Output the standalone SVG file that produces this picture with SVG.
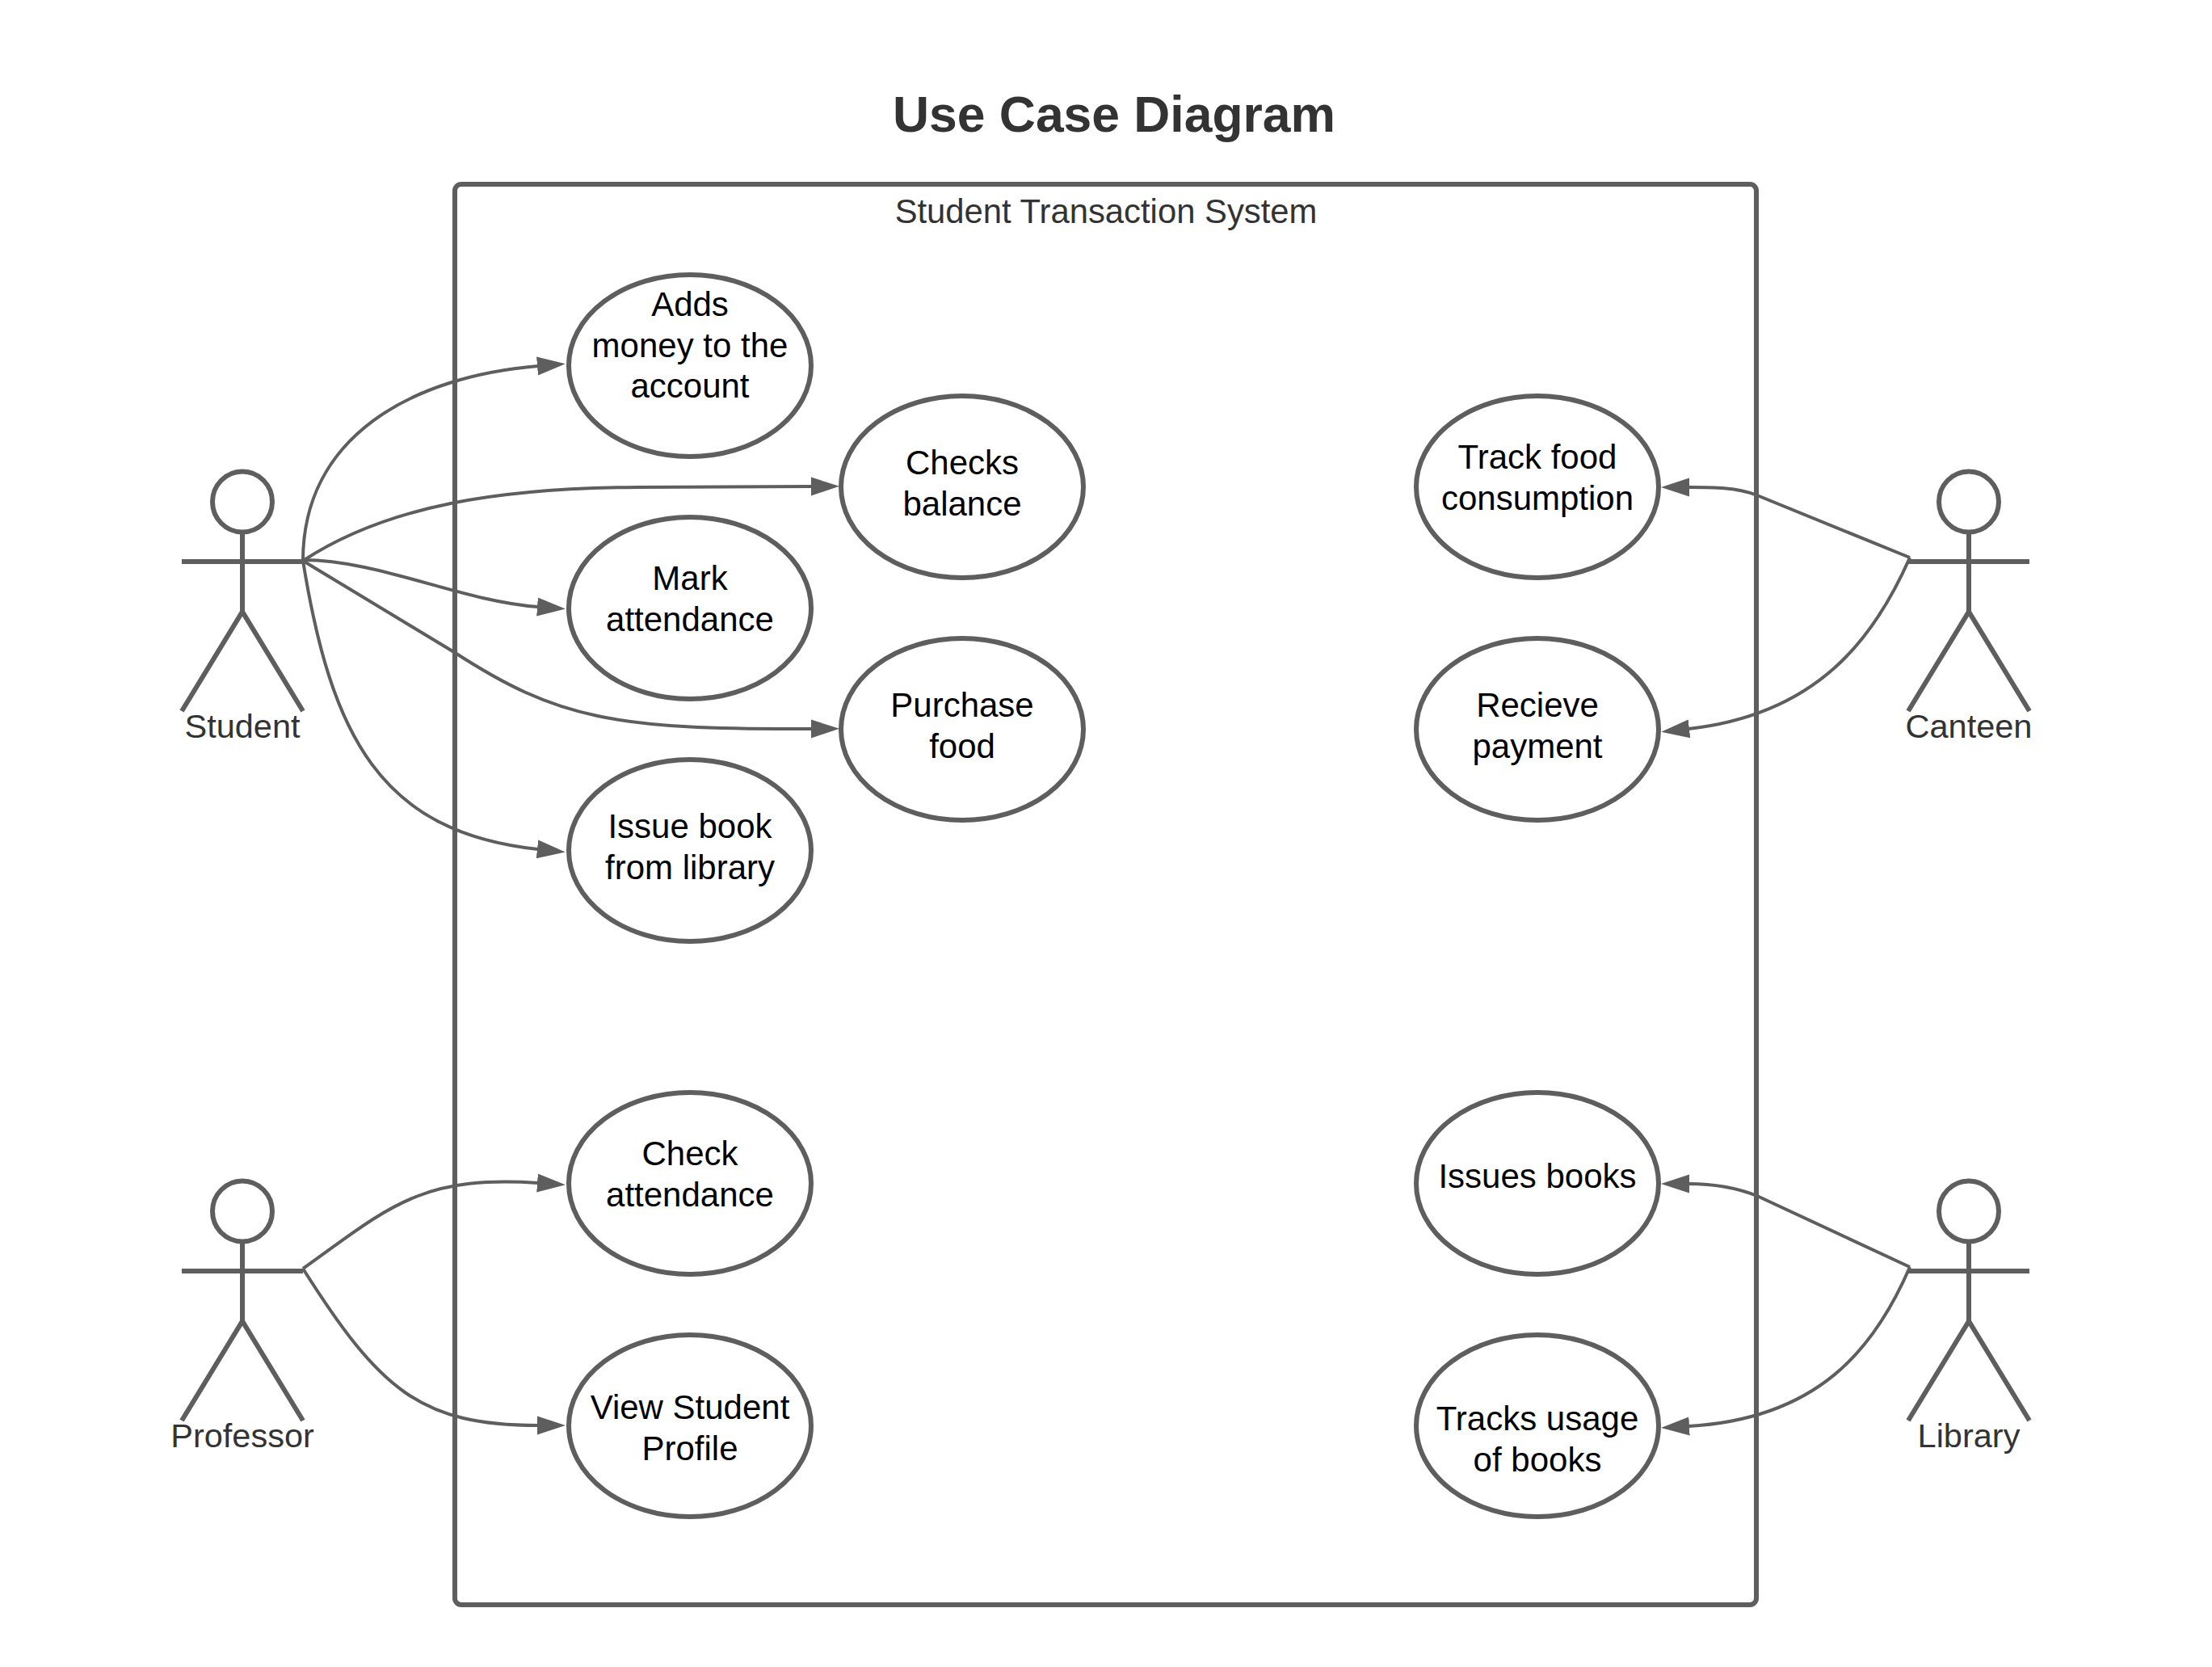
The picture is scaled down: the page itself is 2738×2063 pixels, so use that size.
<svg xmlns="http://www.w3.org/2000/svg" width="2738" height="2063" viewBox="0 0 2738 2063">
<style>
text{font-family:"Liberation Sans",Arial,sans-serif;font-size:42px;text-anchor:middle}
.uc text{fill:#000}
.lbl{fill:#333;font-size:41.800px}
.title{fill:#333;font-size:62.4px;font-weight:bold}
.uc ellipse{fill:#fff;stroke:#5e5e5e;stroke-width:6}
.actor *{fill:none;stroke:#5e5e5e;stroke-width:6}
.actor text{fill:#333;stroke:none;font-size:41.500px}
.c{fill:none;stroke:#5e5e5e;stroke-width:4}
</style>
<defs>
<marker id="a" markerUnits="userSpaceOnUse" markerWidth="36" markerHeight="26" viewBox="0 0 36 26" refX="1" refY="13" orient="auto"><path d="M0 1.500L35 13L0 24.500Z" fill="#5e5e5e"/></marker>
<g id="stick"><ellipse cx="0" cy="-74" rx="37" ry="37.500"/><path d="M0 -37V62M-75 0H75M-75 185L0 62L75 185"/></g>
</defs>
<rect width="2738" height="2063" fill="#fff"/>
<text class="title" x="1379" y="163">Use Case Diagram</text>
<g id="system"><rect x="563" y="228" width="1611" height="1758" rx="8" fill="#fff" stroke="#5e5e5e" stroke-width="6"/>
<text class="lbl" x="1369" y="276">Student Transaction System</text></g>
<g id="connectors">
<path class="c" marker-end="url(#a)" d="M375 694C375 540 510 466 666 453"/>
<path class="c" marker-end="url(#a)" d="M375 694C480 625 620 604 790 603L1005 602"/>
<path class="c" marker-end="url(#a)" d="M375 693C470 693 570 744 666 751"/>
<path class="c" marker-end="url(#a)" d="M375 694L562 807C690 890 760 903 1005 902"/>
<path class="c" marker-end="url(#a)" d="M375 694C410 910 470 1030 666 1051"/>
<path class="c" marker-end="url(#a)" d="M375 1570C480 1495 520 1454 666 1464"/>
<path class="c" marker-end="url(#a)" d="M375 1570C470 1720 520 1764 666 1764"/>
<path class="c" marker-end="url(#a)" d="M2364 690L2175 613C2150 603 2120 603 2090 603"/>
<path class="c" marker-end="url(#a)" d="M2364 690C2320 790 2250 884 2090 902"/>
<path class="c" marker-end="url(#a)" d="M2364 1568L2175 1480C2150 1470 2120 1465 2090 1465"/>
<path class="c" marker-end="url(#a)" d="M2364 1568C2320 1670 2250 1756 2090 1765"/>
</g>
<g id="student" class="actor"><use href="#stick" x="300" y="695"/><text x="300" y="913">Student</text></g>
<g id="professor" class="actor"><use href="#stick" x="300" y="1573"/><text x="300" y="1791">Professor</text></g>
<g id="canteen" class="actor"><use href="#stick" x="2437" y="695"/><text x="2437" y="913">Canteen</text></g>
<g id="library" class="actor"><use href="#stick" x="2437" y="1573"/><text x="2437" y="1791">Library</text></g>
<g id="uc1" class="uc"><ellipse cx="854" cy="452.500" rx="150" ry="112.500"/><text x="854" y="391">Adds</text><text x="854" y="441.500">money to the</text><text x="854" y="491.500">account</text></g>
<g id="uc2" class="uc"><ellipse cx="1191" cy="602.500" rx="150" ry="112.500"/><text x="1191" y="587">Checks</text><text x="1191" y="638">balance</text></g>
<g id="uc3" class="uc"><ellipse cx="854" cy="752.500" rx="150" ry="112.500"/><text x="854" y="730">Mark</text><text x="854" y="781">attendance</text></g>
<g id="uc4" class="uc"><ellipse cx="1191" cy="902.500" rx="150" ry="112.500"/><text x="1191" y="887">Purchase</text><text x="1191" y="938">food</text></g>
<g id="uc5" class="uc"><ellipse cx="854" cy="1052.500" rx="150" ry="112.500"/><text x="854" y="1037">Issue book</text><text x="854" y="1088">from library</text></g>
<g id="uc6" class="uc"><ellipse cx="854" cy="1464.500" rx="150" ry="112.500"/><text x="854" y="1442">Check</text><text x="854" y="1493">attendance</text></g>
<g id="uc7" class="uc"><ellipse cx="854" cy="1764.500" rx="150" ry="112.500"/><text x="854" y="1756">View Student</text><text x="854" y="1807">Profile</text></g>
<g id="uc8" class="uc"><ellipse cx="1903" cy="602.500" rx="150" ry="112.500"/><text x="1903" y="580">Track food</text><text x="1903" y="631">consumption</text></g>
<g id="uc9" class="uc"><ellipse cx="1903" cy="902.500" rx="150" ry="112.500"/><text x="1903" y="887">Recieve</text><text x="1903" y="938">payment</text></g>
<g id="uc10" class="uc"><ellipse cx="1903" cy="1464.500" rx="150" ry="112.500"/><text x="1903" y="1470">Issues books</text></g>
<g id="uc11" class="uc"><ellipse cx="1903" cy="1764.500" rx="150" ry="112.500"/><text x="1903" y="1770">Tracks usage</text><text x="1903" y="1821">of books</text></g>
</svg>
